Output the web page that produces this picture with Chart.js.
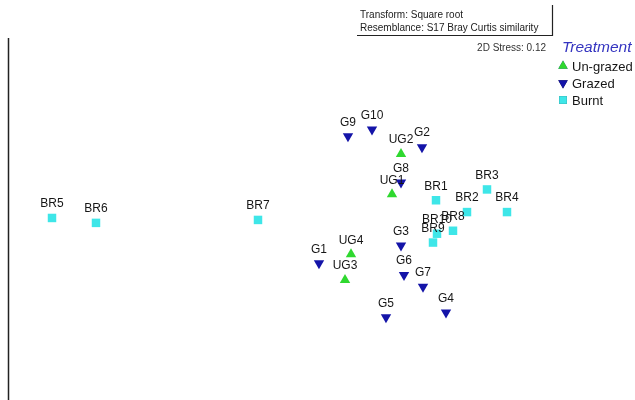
<!DOCTYPE html>
<html>
<head>
<meta charset="utf-8">
<script src="https://cdn.jsdelivr.net/npm/chart.js@4/dist/chart.umd.min.js"></script>
<style>
html,body{margin:0;padding:0;background:#fff;}
#wrap{width:635px;height:400px;position:relative;}
</style>
</head>
<body>
<div id="wrap"><canvas id="c" width="635" height="400"></canvas></div>
<script>
// nMDS ordination coordinates
const ungrazedLabels = ["UG1","UG2","UG3","UG4"];
const ungrazedX = [-0.08, 0.01, -0.55, -0.49];
const ungrazedY = [0.57, 0.98, -0.30, -0.04];

const grazedLabels = ["G1","G2","G3","G4","G5","G6","G7","G8","G9","G10"];
const grazedX = [-0.81, 0.22, 0.01, 0.46, -0.14, 0.04, 0.23, 0.01, -0.52, -0.28];
const grazedY = [-0.13, 1.05, 0.05, -0.63, -0.68, -0.25, -0.37, 0.69, 1.16, 1.23];

const burntLabels = ["BR1","BR2","BR3","BR4","BR5","BR6","BR7","BR8","BR9","BR10"];
const burntX = [0.36, 0.67, 0.87, 1.07, -3.48, -3.04, -1.42, 0.53, 0.33, 0.37];
const burntY = [0.51, 0.39, 0.62, 0.39, 0.33, 0.28, 0.31, 0.20, 0.08, 0.17];

const seriesNames = ["Un-grazed","Grazed","Burnt"];
const legendTitle = "Treatment";
const stressText = "2D Stress: 0.12";
const noteLines = ["Transform: Square root","Resemblance: S17 Bray Curtis similarity"];

function pts(xs, ys, labels){ return xs.map((x,i)=>({x:x, y:ys[i], label:labels[i]})); }

const FONT = "'Liberation Sans', Arial, sans-serif";

const decor = {
  id:'decor',
  afterDatasetsDraw(chart){
    const ctx = chart.ctx;
    const ca = chart.chartArea;
    ctx.save();
    // point labels
    ctx.font = "12px " + FONT;
    ctx.fillStyle = "#161616";
    ctx.textAlign = "center";
    ctx.textBaseline = "middle";
    chart.data.datasets.forEach((ds, di)=>{
      const meta = chart.getDatasetMeta(di);
      meta.data.forEach((el, i)=>{
        ctx.fillText(ds.data[i].label, el.x, el.y - 14);
      });
    });
    // left axis line
    ctx.strokeStyle = "#222";
    ctx.lineWidth = 1.5;
    ctx.beginPath();
    ctx.moveTo(8.5, 38);
    ctx.lineTo(8.5, 400);
    ctx.stroke();
    // note box (right + bottom edges)
    ctx.strokeStyle = "#222";
    ctx.lineWidth = 1.2;
    ctx.beginPath();
    ctx.moveTo(552.5, 5);
    ctx.lineTo(552.5, 35.5);
    ctx.lineTo(357, 35.5);
    ctx.stroke();
    ctx.font = "10px " + FONT;
    ctx.fillStyle = "#222";
    ctx.textAlign = "left";
    ctx.fillText(noteLines[0], 360, 15);
    ctx.fillText(noteLines[1], 360, 28);
    // stress
    ctx.textAlign = "right";
    ctx.fillStyle = "#333";
    ctx.fillText(stressText, 546, 48);
    // legend
    ctx.textAlign = "left";
    ctx.font = "italic 15.5px " + FONT;
    ctx.fillStyle = "#3535c0";
    ctx.fillText(legendTitle, 562, 48);
    ctx.font = "13px " + FONT;
    chart.data.datasets.forEach((ds, di)=>{
      const y = 66 + di * 17;
      Chart.helpers.drawPoint(ctx, {
        pointStyle: ds.pointStyle, rotation: ds.rotation || 0,
        radius: ds.legendRadius, borderWidth: 0
      }, 563, y);
      ctx.fillStyle = ds.backgroundColor;
      ctx.fill();
      ctx.fillStyle = "#161616";
      ctx.fillText(seriesNames[di], 572, y + 1);
    });
    ctx.restore();
  }
};

new Chart(document.getElementById('c'), {
  type:'scatter',
  data:{
    datasets:[
      {label:seriesNames[0], data:pts(ungrazedX, ungrazedY, ungrazedLabels),
       pointStyle:'triangle', rotation:0, pointRadius:6, legendRadius:5.5,
       backgroundColor:'#2fd82f', borderColor:'#2fd82f', borderWidth:0},
      {label:seriesNames[1], data:pts(grazedX, grazedY, grazedLabels),
       pointStyle:'triangle', rotation:180, pointRadius:6, legendRadius:5.5,
       backgroundColor:'#1414a8', borderColor:'#1414a8', borderWidth:0},
      {label:seriesNames[2], data:pts(burntX, burntY, burntLabels),
       pointStyle:'rect', rotation:0, pointRadius:6, legendRadius:5.5,
       backgroundColor:'#3ee6e8', borderColor:'#3ee6e8', borderWidth:0}
    ]
  },
  options:{
    responsive:false,
    animation:false,
    layout:{padding:{left:8, right:82, top:38, bottom:0}},
    scales:{
      x:{type:'linear', display:false, min:-3.92, max:1.53},
      y:{type:'linear', display:false, min:-1.46, max:2.16}
    },
    plugins:{legend:{display:false}, tooltip:{enabled:false}},
    elements:{point:{hoverRadius:6}}
  },
  plugins:[decor]
});
</script>
</body>
</html>
